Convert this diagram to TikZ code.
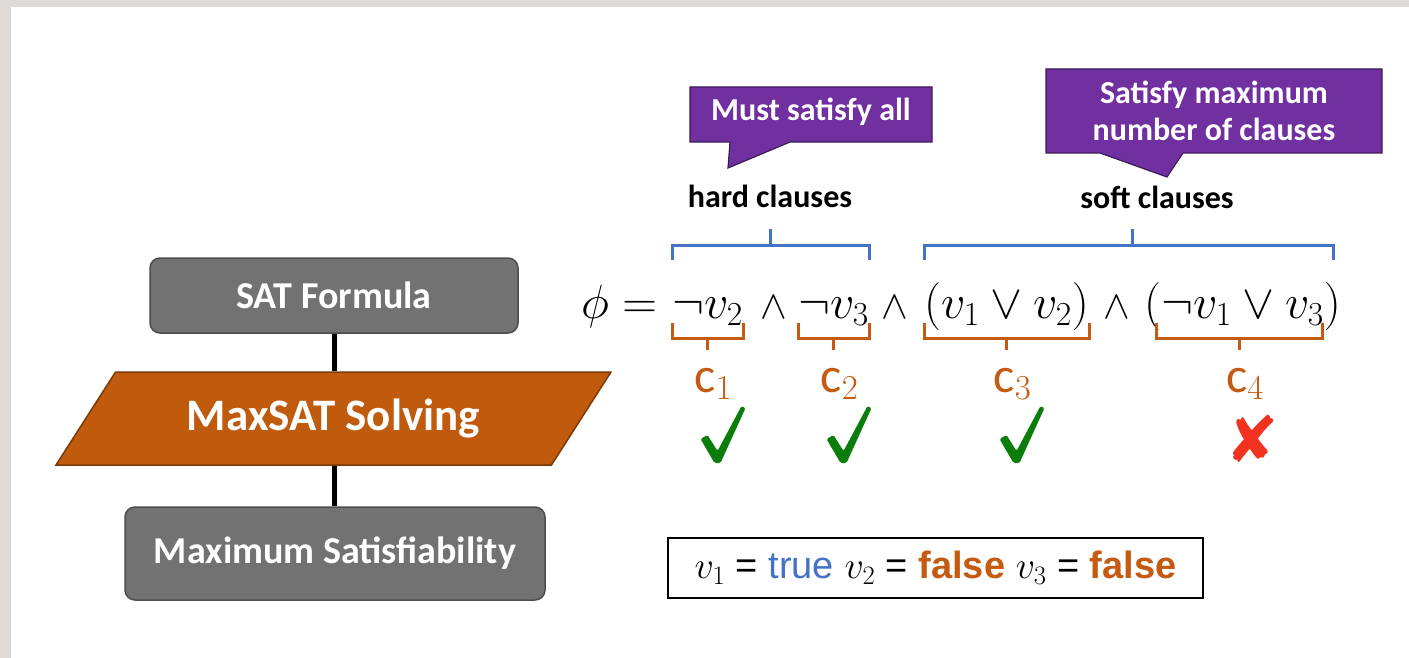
\RequirePackage{fix-cm}
\documentclass[tikz,border=0pt]{standalone}
\usepackage[no-math]{fontspec}
\setmainfont{Carlito}
\newfontfamily\arialfont{Liberation Sans}
\newfontfamily\symfont{DejaVu Sans}
\usepackage{tikz}
\usetikzlibrary{positioning, arrows.meta, shapes.geometric, calc}

\definecolor{framegray}{HTML}{DEDBD6}
\definecolor{boxgray}{HTML}{727272}
\definecolor{boxedge}{HTML}{4D4D4D}
\definecolor{solveorange}{HTML}{C05A0C}
\definecolor{solveedge}{HTML}{7A3A08}
\definecolor{clauseorange}{HTML}{C55A11}
\definecolor{hardblue}{HTML}{4472C4}
\definecolor{notepurple}{HTML}{7030A0}
\definecolor{okgreen}{HTML}{0A7D0A}
\definecolor{nored}{HTML}{F0321E}

\begin{document}
\begin{tikzpicture}[x=1pt, y=-1pt,
  procbox/.style={draw=boxedge, line width=1.5pt, fill=boxgray, rounded corners=10pt, text=white, inner sep=0pt, font=\fontsize{38}{42}\selectfont\bfseries},
  solvebox/.style={trapezium, trapezium left angle=44.4, trapezium right angle=135.6, trapezium stretches=true, draw=solveedge, line width=1.5pt, fill=solveorange, text=white, inner sep=0pt, font=\fontsize{45}{50}\selectfont\bfseries},
  flowline/.style={line width=5pt},
  notebox/.style={fill=notepurple, draw=notepurple!55!black, line width=1.2pt},
  notetext/.style={text=white, align=center, inner sep=0pt, font=\fontsize{32}{37}\selectfont\bfseries},
  grouplabel/.style={inner sep=0pt, font=\fontsize{32}{36}\selectfont\bfseries},
  formula/.style={anchor=base west, inner sep=0pt, font=\fontsize{48}{52}\selectfont},
  andsign/.style={formula, font=\fontsize{40}{44}\selectfont},
  hardbrk/.style={draw=hardblue, line width=3pt},
  clausebrk/.style={draw=clauseorange, line width=3pt},
  clauselabel/.style={anchor=base, inner sep=0pt, text=clauseorange, font=\fontsize{50}{54}\selectfont},
  nomark/.style={anchor=base, inner sep=0pt, text=nored, font=\symfont\fontsize{64}{68}\selectfont},
  okcheck/.pic={
    \fill[okgreen, rounded corners=1.5pt] (-22,5) -- (-15,1) -- (-5,17) -- (19,-28) -- (23,-26) -- (-2,29) -- (-8,29) -- cycle;
  },
  assignbox/.style={draw=black, line width=1.5pt, minimum width=535pt, minimum height=60pt, inner sep=0pt, font=\arialfont\fontsize{38}{42}\selectfont}
]
  % page and frame
  \fill[white] (0,0) rectangle (1409,658);
  \fill[framegray] (0,0) rectangle (1409,7);
  \fill[framegray] (0,0) rectangle (11,658);
  \useasboundingbox (0,0) rectangle (1409,658);

  % left flow
  \node[procbox, minimum width=368pt, minimum height=75pt] (sat) at (334,295.5) {SAT Formula};
  \node[solvebox, minimum width=557pt, minimum height=93pt] (solve) at (333.5,418.5) {MaxSAT Solving};
  \node[procbox, minimum width=420pt, minimum height=93pt] (maxsat) at (335,553.5) {Maximum Satisfiability};
  \draw[flowline] (sat.south) -- (sat.south |- solve.north);
  \draw[flowline] (sat.south |- solve.south) -- (sat.south |- maxsat.north);

  % callouts
  \draw[notebox] (690,87) -- (932,87) -- (932,142) -- (790,142) -- (728,168) -- (730,142) -- (690,142) -- cycle;
  \node[notetext] (mustall) at (811,112) {Must satisfy all};
  \draw[notebox] (1046,69) -- (1382,69) -- (1382,153) -- (1183,153) -- (1167,177) -- (1100,153) -- (1046,153) -- cycle;
  \node[notetext] (maxnum) at (1214,111) {Satisfy maximum\\number of clauses};
  \node[grouplabel] (hard) at (770,196) {hard clauses};
  \node[grouplabel] (soft) at (1157,197) {soft clauses};

  % formula
  \foreach \n/\x/\txt in {phi/581/{\phi =}, t1/672/{\neg v_2}, t2/798/{\neg v_3}, t3/924/{(v_1 \vee v_2)}, t4/1144/{(\neg v_1 \vee v_3)}}{
    \node[formula] (\n) at (\x,318) {$\txt$};
  }
  \foreach \n/\x in {a1/760, a2/881, a3/1103}{
    \node[andsign] (\n) at (\x,318) {$\wedge$};
  }

  % hard and soft brackets
  \coordinate (grouptop) at (0,245);
  \coordinate (hardmid) at ($(t1.west |- grouptop)!0.5!(t2.east |- grouptop)$);
  \coordinate (softmid) at ($(t3.west |- grouptop)!0.5!(t4.east |- grouptop)$);
  \draw[hardbrk] ($(t1.west |- grouptop)+(0,15)$) -- (t1.west |- grouptop) -- (t2.east |- grouptop) -- ($(t2.east |- grouptop)+(0,15)$);
  \draw[hardbrk] (hardmid) -- ++(0,-16);
  \draw[hardbrk] ($(t3.west |- grouptop)+(0,15)$) -- (t3.west |- grouptop) -- ($(t4.east |- grouptop)+(-8,0)$) -- ($(t4.east |- grouptop)+(-8,15)$);
  \draw[hardbrk] (softmid) -- ++(0,-16);

  % clause brackets and labels
  \coordinate (clausebot) at (0,338);
  \foreach \i/\lo/\ro in {1/0/0, 2/0/0, 3/0/0, 4/12/-19}{
    \coordinate (L\i) at ($(t\i.west |- clausebot)+(\lo,0)$);
    \coordinate (R\i) at ($(t\i.east |- clausebot)+(\ro,0)$);
    \coordinate (M\i) at ($(L\i)!0.5!(R\i)$);
    \draw[clausebrk] ($(L\i)+(0,-15)$) -- (L\i) -- (R\i) -- ($(R\i)+(0,-15)$);
    \draw[clausebrk] (M\i) -- ++(0,12);
    \node[clauselabel] (c\i) at ($(M\i)+(6,54)$) {c$_{\i}$};
  }

  % satisfied or not
  \foreach \i in {1,2,3}{
    \pic (ok\i) at ($(M\i)+(15,96)$) {okcheck};
  }
  \node[nomark] (no4) at ($(M4)+(13,124)$) {✘};

  % assignment
  \node[assignbox] (assign) at (935.5,568) {$v_1$ = {\color{hardblue}true} $v_2$ = {\bfseries\color{clauseorange}false} $v_3$ = {\bfseries\color{clauseorange}false}};
\end{tikzpicture}
\end{document}
